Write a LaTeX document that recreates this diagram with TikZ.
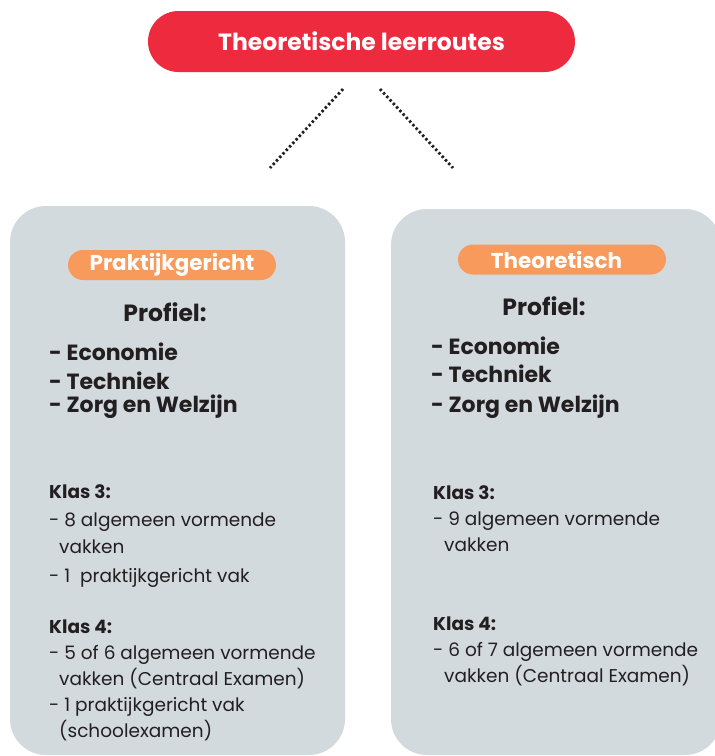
\documentclass[tikz,border=0pt]{standalone}
\usepackage{fontspec}
\setmainfont{Poppins}
\usetikzlibrary{shapes.misc}

\definecolor{routered}{HTML}{EE2A3E}
\definecolor{pillorange}{HTML}{F79A5B}
\definecolor{panelgrey}{HTML}{D3DADE}
\definecolor{ink}{HTML}{231F20}

\begin{document}
\begin{tikzpicture}[
  x=1pt, y=-1pt,
  title/.style  = {rounded rectangle, fill=routered, text=white, inner sep=0pt,
                   minimum width=427pt, minimum height=61pt,
                   font=\bfseries\fontsize{23.5}{28}\selectfont},
  panel/.style  = {fill=panelgrey, rounded corners=36pt, inner sep=0pt},
  tag/.style    = {rounded rectangle, fill=pillorange, text=white, inner sep=0pt,
                   minimum width=208pt, minimum height=30pt,
                   font=\bfseries\fontsize{21.5}{25}\selectfont},
  head/.style   = {text=ink, inner sep=0pt, font=\bfseries\fontsize{23.5}{28}\selectfont},
  prof/.style   = {text=ink, inner sep=0pt, anchor=base west,
                   font=\bfseries\fontsize{22}{26}\selectfont},
  klas/.style   = {text=ink, inner sep=0pt, anchor=base west,
                   font=\bfseries\fontsize{18.5}{22}\selectfont},
  item/.style   = {text=ink, inner sep=0pt, anchor=base west,
                   font=\fontsize{18.5}{22}\selectfont},
  dots/.style   = {draw=ink, line width=2.8pt, dash pattern=on 2.4pt off 2.4pt},
]
  \useasboundingbox (0,0) rectangle (715,756);

  \node[title] (routes) at (361.5,41.5) {Theoretische leerroutes};

  % the two branches stop short of both ends
  \coordinate (lfrom) at (343,89);
  \coordinate (lto)   at (270,168);
  \coordinate (rfrom) at (380,89);
  \coordinate (rto)   at (453,168);
  \draw[dots] (lfrom) -- (lto);
  \draw[dots] (rfrom) -- (rto);

  \node[panel, minimum width=335pt, minimum height=549pt] (prak) at (177.5,480.5) {};
  \node[panel, minimum width=330pt, minimum height=546pt] (theo) at (556,482) {};

  % left panel
  \node[tag] (prak_tag) at (172,265) {Praktijkgericht};
  \node[head] (prak_prof) at (165,312) {Profiel:};
  \node[prof] (prak_eco) at (49,360) {- Economie};
  \node[prof] (prak_tec) at (49,389) {- Techniek};
  \node[prof] (prak_zorg) at (49,412) {- Zorg en Welzijn};
  \node[klas] (prak_k3) at (49,498) {Klas 3:};
  \node[item] (prak_k3a) at (49,526) {- 8 algemeen vormende};
  \node[item] (prak_k3b) at (59,553) {vakken};
  \node[item] (prak_k3c) at (49,582) {- 1\ \ praktijkgericht vak};
  \node[klas] (prak_k4) at (49,633) {Klas 4:};
  \node[item] (prak_k4a) at (49,659) {- 5 of 6 algemeen vormende};
  \node[item] (prak_k4b) at (59,685) {vakken (Centraal Examen)};
  \node[item] (prak_k4c) at (49,711) {- 1 praktijkgericht vak};
  \node[item] (prak_k4d) at (59,737) {(schoolexamen)};

  % right panel (its tag text sits a little left of centre)
  \node[tag] (theo_tag) at (562,259.5) {Theoretisch\hspace*{11pt}};
  \node[head] (theo_prof) at (544,306) {Profiel:};
  \node[prof] (theo_eco) at (431,354) {- Economie};
  \node[prof] (theo_tec) at (431,382) {- Techniek};
  \node[prof] (theo_zorg) at (431,412) {- Zorg en Welzijn};
  \node[klas] (theo_k3) at (433,499) {Klas 3:};
  \node[item] (theo_k3a) at (433,525) {- 9 algemeen vormende};
  \node[item] (theo_k3b) at (444,551) {vakken};
  \node[klas] (theo_k4) at (433,630) {Klas 4:};
  \node[item] (theo_k4a) at (433,656) {- 6 of 7 algemeen vormende};
  \node[item] (theo_k4b) at (444,682) {vakken (Centraal Examen)};
\end{tikzpicture}
\end{document}
